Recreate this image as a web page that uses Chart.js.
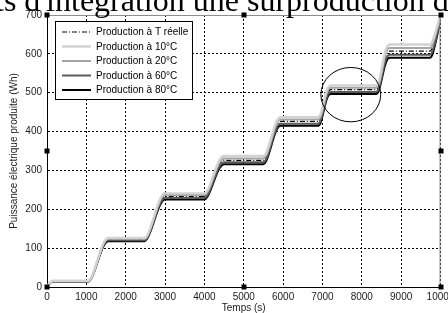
<!DOCTYPE html>
<html>
<head>
<meta charset="utf-8">
<script src="https://cdn.jsdelivr.net/npm/chart.js@4.4.0/dist/chart.umd.min.js"></script>
<style>
html,body{margin:0;padding:0;background:#fff;}
canvas{display:block;}
</style>
</head>
<body>
<canvas id="c" width="448" height="313"></canvas>
<script>
// ---- data ----
const times = [0, 50, 150, 1050, 1130, 1440, 1560, 2480, 2560, 2880, 2990, 4000, 4080, 4380, 4500, 5500, 5570, 5830, 5930, 6880, 6950, 7120, 7210, 8360, 8430, 8610, 8710, 9730, 9800, 10000];
const seriesNames = ["Production à T réelle", "Production à 10°C", "Production à 20°C", "Production à 60°C", "Production à 80°C"];
const prodReal = [0, 8, 15, 15, 24, 110, 122, 122, 131, 220, 233, 233, 241, 315, 326, 326, 334, 414, 426, 426, 433, 498, 508, 508, 516, 594, 607, 607, 617, 694];
const prod10 = [0, 8, 16, 16, 25, 114, 126, 126, 135, 228, 241, 241, 249, 326, 337, 337, 345, 425, 437, 437, 444, 509, 519, 519, 527, 610, 624, 624, 634, 700];
const prod20 = [0, 8, 15.5, 15.5, 24.5, 112, 124, 124, 133, 224, 237, 237, 245, 320, 331, 331, 339, 419, 431, 431, 438, 503, 513, 513, 521, 602, 615, 615, 625, 697];
const prod60 = [0, 7.5, 14.5, 14.5, 23.5, 108, 120, 120, 129, 216, 229, 229, 237, 310, 321, 321, 329, 408, 420, 420, 427, 492, 502, 502, 510, 585, 598, 598, 608, 690];
const prod80 = [0, 7, 14, 14, 23, 106, 118, 118, 127, 212, 225, 225, 233, 305, 316, 316, 324, 403, 415, 415, 422, 487, 497, 497, 505, 577, 590, 590, 600, 686];
const xTicks = [0, 1000, 2000, 3000, 4000, 5000, 6000, 7000, 8000, 9000, 10000];
const yTicks = [0, 100, 200, 300, 400, 500, 600, 700];
const circleCenter = {x: 7720, y: 495};
const circleRadius = {x: 760, y: 70};
const captionText = "ts d'intégration une surproduction d";

// ---- styles ----
const colors = ["#000000", "#d2d2d2", "#a4a4a4", "#5a5a5a", "#000000"];
const widths = [1.2, 2.4, 2, 2, 2];
const dashes = [[5, 2, 1, 2], [], [], [], []];
const values = [prodReal, prod10, prod20, prod60, prod80];

function pts(arr){ return times.map((t,i)=>({x:t, y:arr[i]})); }

const order = [1, 2, 3, 4, 0];
const datasets = order.map(i => ({
  label: seriesNames[i],
  data: pts(values[i]),
  borderColor: colors[i],
  borderWidth: widths[i],
  borderDash: dashes[i],
  pointRadius: 0,
  fill: false,
  cubicInterpolationMode: 'monotone'
}));

const FONT = "'Liberation Sans', Arial, sans-serif";

const decor = {
  id: 'decor',
  afterDatasetsDraw(chart){
    const ctx = chart.ctx, a = chart.chartArea;
    const xs = chart.scales.x, ys = chart.scales.y;
    ctx.save();
    // top & right box lines
    ctx.strokeStyle = '#8c8c8c'; ctx.lineWidth = 1; ctx.setLineDash([]);
    ctx.beginPath();
    ctx.moveTo(a.left, a.top + 0.5); ctx.lineTo(a.right, a.top + 0.5);
    ctx.moveTo(a.right - 0.5, a.top); ctx.lineTo(a.right - 0.5, a.bottom);
    ctx.stroke();
    // circle annotation
    const cx = xs.getPixelForValue(circleCenter.x), cy = ys.getPixelForValue(circleCenter.y);
    const rx = xs.getPixelForValue(circleCenter.x + circleRadius.x) - cx;
    const ry = cy - ys.getPixelForValue(circleCenter.y + circleRadius.y);
    ctx.strokeStyle = '#000'; ctx.lineWidth = 1;
    ctx.beginPath(); ctx.ellipse(cx, cy, rx, ry, 0, 0, Math.PI*2); ctx.stroke();
    // legend
    const lx = 55.5, ly = 21.5, lw = 137, lh = 78;
    ctx.fillStyle = '#fff'; ctx.fillRect(lx, ly, lw, lh);
    ctx.strokeStyle = '#000'; ctx.strokeRect(lx, ly, lw, lh);
    ctx.font = "10px " + FONT; ctx.textBaseline = 'middle'; ctx.textAlign = 'left';
    for (let i = 0; i < seriesNames.length; i++) {
      const y = 32 + i*14.5;
      ctx.strokeStyle = colors[i]; ctx.lineWidth = widths[i]; ctx.setLineDash(dashes[i]);
      ctx.beginPath(); ctx.moveTo(62, y); ctx.lineTo(91, y); ctx.stroke();
      ctx.setLineDash([]);
      ctx.fillStyle = '#000'; ctx.fillText(seriesNames[i], 96, y + 0.5);
    }
    // selection handles
    ctx.fillStyle = '#000';
    const mx = (a.left + a.right)/2, my = (a.top + a.bottom)/2;
    [[a.left,a.top],[mx,a.top],[a.right,a.top],[a.left,my],[a.right,my],[a.left,a.bottom],[mx,a.bottom],[a.right,a.bottom]].forEach(p=>{
      ctx.fillRect(Math.round(p[0]) - 2.5, Math.round(p[1]) - 2.5, 5, 5);
    });
    ctx.restore();
  },
  afterDraw(chart){
    const ctx = chart.ctx;
    ctx.save();
    ctx.font = "32px 'Liberation Serif', 'Times New Roman', serif";
    ctx.fillStyle = '#000'; ctx.textBaseline = 'alphabetic'; ctx.textAlign = 'left';
    ctx.fillText(captionText, -5, 11);
    ctx.restore();
  }
};

new Chart(document.getElementById('c'), {
  type: 'line',
  data: { datasets },
  plugins: [decor],
  options: {
    responsive: false,
    animation: false,
    layout: { padding: { top: 15, right: 7.5, left: 0, bottom: 0 } },
    plugins: { legend: { display: false }, tooltip: { enabled: false } },
    scales: {
      x: {
        type: 'linear', min: 0, max: 10000,
        afterBuildTicks(s){ s.ticks = xTicks.map(v=>({value:v})); },
        afterFit(s){ s.height = 26; s.paddingLeft = 0; s.paddingRight = 0; },
        ticks: { color: '#222', font: { family: FONT, size: 10 }, padding: 4, maxRotation: 0, autoSkip: false, callback: v => String(v) },
        grid: { color: '#000', lineWidth: 1, drawTicks: false },
        border: { display: true, color: '#000', width: 1, dash: [2, 2] },
        title: { display: true, text: 'Temps (s)', color: '#222', font: { family: FONT, size: 10, lineHeight: 1 }, padding: { top: 0, bottom: 0 } }
      },
      y: {
        type: 'linear', min: 0, max: 700,
        afterBuildTicks(s){ s.ticks = yTicks.map(v=>({value:v})); },
        afterFit(s){ s.width = 47; s.paddingTop = 0; s.paddingBottom = 0; },
        ticks: { color: '#222', font: { family: FONT, size: 10 }, padding: 5, autoSkip: false, callback: v => String(v) },
        grid: { color: '#000', lineWidth: 1, drawTicks: false },
        border: { display: true, color: '#000', width: 1, dash: [2, 2] },
        title: { display: true, text: 'Puissance électrique produite (Wh)', color: '#222', font: { family: FONT, size: 10, lineHeight: 1.2 }, padding: { top: 8, bottom: 0 } }
      }
    }
  }
});
</script>
</body>
</html>
